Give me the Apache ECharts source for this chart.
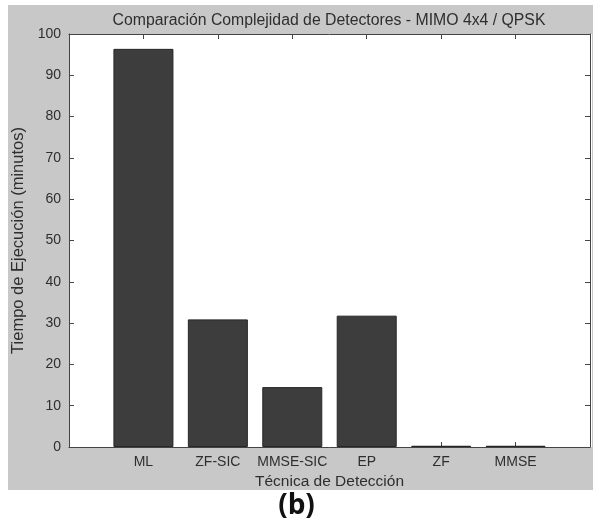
<!DOCTYPE html>
<html>
<head>
<meta charset="utf-8">
<script src="https://cdn.jsdelivr.net/npm/echarts@6/dist/echarts.min.js"></script>
<style>
  html, body { margin: 0; padding: 0; background: #fff; }
  #chart { width: 593px; height: 525px; }
</style>
</head>
<body>
<div id="chart"></div>
<script>
// detector names, one bar each (MATLAB puts them at x = 1..6)
const categories = ['ML', 'ZF-SIC', 'MMSE-SIC', 'EP', 'ZF', 'MMSE'];
const minutes = [96.4, 30.9, 14.5, 31.8, 0.3, 0.3];
const yTicks = [0, 10, 20, 30, 40, 50, 60, 70, 80, 90, 100];

const FONT = '"Liberation Sans", Arial, sans-serif';
const INK = '#2e2e2e';
const LINE = '#444';

const chart = echarts.init(document.getElementById('chart'), null, { renderer: 'canvas' });

const axisCommon = {
    axisLine: { show: true, onZero: false, lineStyle: { color: LINE, width: 1 } },
    axisTick: { show: true, inside: true, length: 5, lineStyle: { color: LINE } },
    splitLine: { show: false },
};

chart.setOption({
    backgroundColor: '#fff',
    animation: false,
    graphic: [
        {
            type: 'rect', z: -10, silent: true,
            shape: { x: 8, y: 5, width: 585, height: 485 },
            style: { fill: '#c8c8c8' },
        },
        {
            type: 'rect', z: -5, silent: true,
            shape: { x: 69, y: 34, width: 523, height: 413 },
            style: { fill: '#fff' },
        },
        {
            type: 'text', left: 'center', top: 492,
            style: { text: '(b)', font: 'bold 28px "Open Sans", sans-serif', fill: '#111' },
        },
    ],
    title: {
        text: 'Comparación Complejidad de Detectores - MIMO 4x4 / QPSK',
        left: 324, top: 8, textAlign: 'center',
        textStyle: { fontFamily: FONT, fontSize: 15.8, fontWeight: 'normal', color: INK },
    },
    grid: { left: 69, top: 34, width: 523, height: 413, containLabel: false },
    xAxis: [
        {
            ...axisCommon,
            type: 'value', position: 'bottom', min: 0, max: 7, interval: 1,
            axisLabel: {
                margin: 8, fontFamily: FONT, fontSize: 14, color: INK,
                formatter: v => categories[v - 1] || '',
            },
            axisTick: { ...axisCommon.axisTick, customValues: [1, 2, 3, 4, 5, 6] },
            name: 'Técnica de Detección', nameLocation: 'middle', nameGap: 26,
            nameTextStyle: { fontFamily: FONT, fontSize: 15.5, color: INK },
        },
        {
            ...axisCommon,
            type: 'value', position: 'top', min: 0, max: 7, interval: 1,
            axisLabel: { show: false },
            axisTick: { ...axisCommon.axisTick, customValues: [1, 2, 3, 4, 5, 6] },
        },
    ],
    yAxis: [
        {
            ...axisCommon,
            type: 'value', position: 'left', min: 0, max: 100, interval: 10,
            axisLabel: {
                margin: 8, fontFamily: FONT, fontSize: 14, color: INK,
                customValues: yTicks,
            },
            name: 'Tiempo de Ejecución (minutos)', nameLocation: 'middle', nameGap: 41,
            nameTextStyle: { fontFamily: FONT, fontSize: 16.5, color: INK },
        },
        {
            ...axisCommon,
            type: 'value', position: 'right', min: 0, max: 100, interval: 10,
            axisLabel: { show: false },
        },
    ],
    series: [
        {
            type: 'bar',
            xAxisIndex: 0, yAxisIndex: 0,
            barWidth: 60,
            data: minutes.map((v, i) => [i + 1, v]),
            itemStyle: { color: '#3d3d3d', borderColor: '#262626', borderWidth: 1 },
        },
    ],
});
</script>
</body>
</html>
